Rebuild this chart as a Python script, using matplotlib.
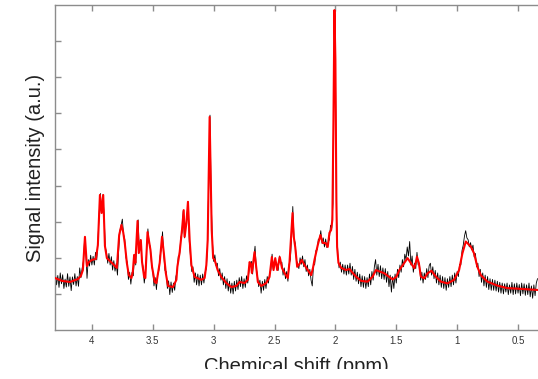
import numpy as np
import matplotlib
matplotlib.use("Agg")
import matplotlib.pyplot as plt
from matplotlib.patches import Rectangle

plt.rcParams['font.family'] = ['Liberation Sans', 'DejaVu Sans']

# ---- data -------------------------------------------------------------
# Fitted spectrum (red): chemical shift (ppm) and intensity (a.u.)
fit_ppm = [4.303, 4.246, 4.180, 4.115, 4.090, 4.074, 4.057, 4.041, 4.025, 4.000,
           3.967, 3.951, 3.934, 3.920, 3.907, 3.893, 3.877, 3.836, 3.795, 3.776,
           3.757, 3.743, 3.730, 3.713, 3.697, 3.675, 3.664, 3.653, 3.643, 3.625,
           3.615, 3.598, 3.588, 3.571, 3.561, 3.543, 3.530, 3.519, 3.506, 3.484,
           3.470, 3.443, 3.424, 3.410, 3.393, 3.375, 3.334, 3.306, 3.298, 3.279,
           3.260, 3.246, 3.238, 3.224, 3.211, 3.197, 3.183, 3.156, 3.101, 3.074,
           3.060, 3.049, 3.041, 3.033, 3.025, 3.016, 3.004, 2.992, 2.967, 2.937,
           2.896, 2.855, 2.814, 2.787, 2.746, 2.719, 2.705, 2.694, 2.686, 2.664,
           2.650, 2.637, 2.609, 2.568, 2.541, 2.522, 2.508, 2.494, 2.478, 2.457,
           2.439, 2.418, 2.391, 2.377, 2.369, 2.352, 2.342, 2.330, 2.314, 2.295,
           2.276, 2.254, 2.227, 2.199, 2.184, 2.172, 2.145, 2.123, 2.104, 2.082,
           2.063, 2.049, 2.035, 2.025, 2.016, 2.008, 2.000, 1.992, 1.986, 1.975,
           1.953, 1.912, 1.885, 1.858, 1.828, 1.789, 1.735, 1.694, 1.667, 1.598,
           1.530, 1.500, 1.475, 1.434, 1.407, 1.379, 1.352, 1.339, 1.330, 1.315,
           1.298, 1.270, 1.243, 1.211, 1.175, 1.134, 1.079, 1.025, 0.984, 0.957,
           0.929, 0.888, 0.861, 0.834, 0.806, 0.752, 0.670, 0.588, 0.478, 0.344]
fit_int = [1.44, 1.36, 1.33, 1.41, 1.50, 1.66, 2.58, 1.77, 1.88, 1.94,
           1.97, 2.35, 3.74, 3.24, 3.74, 2.33, 1.99, 1.86, 1.72, 2.63,
           2.91, 2.71, 2.41, 1.86, 1.52, 1.44, 1.61, 2.08, 1.86, 3.02,
           2.13, 2.49, 1.88, 1.47, 1.44, 2.71, 2.44, 2.22, 1.75, 1.33,
           1.30, 1.86, 2.58, 2.16, 1.58, 1.22, 1.19, 1.39, 1.75, 2.16,
           2.77, 3.32, 2.58, 2.96, 3.55, 2.49, 1.80, 1.47, 1.39, 1.44,
           1.80, 2.49, 4.16, 5.90, 4.43, 2.77, 1.99, 1.94, 1.66, 1.47,
           1.30, 1.19, 1.22, 1.33, 1.30, 1.39, 1.88, 1.83, 1.58, 2.16,
           1.72, 1.33, 1.22, 1.30, 1.47, 2.02, 1.66, 1.99, 1.66, 2.02,
           1.72, 1.58, 1.44, 1.88, 2.30, 3.24, 2.58, 2.30, 1.75, 1.83,
           1.94, 1.80, 1.66, 1.52, 1.72, 1.94, 2.35, 2.63, 2.41, 2.41,
           2.30, 2.69, 2.77, 3.05, 5.82, 8.86, 7.48, 3.60, 2.30, 1.86,
           1.72, 1.66, 1.69, 1.58, 1.47, 1.36, 1.34, 1.48, 1.66, 1.57,
           1.40, 1.47, 1.66, 1.86, 1.99, 1.85, 1.71, 1.88, 2.03, 1.86,
           1.48, 1.43, 1.57, 1.64, 1.48, 1.34, 1.29, 1.39, 1.66, 2.12,
           2.45, 2.31, 2.12, 1.75, 1.52, 1.34, 1.23, 1.16, 1.14, 1.11]

# Measured spectrum (black): sampled every 0.01 ppm starting at 4.30 ppm
raw_start = 4.30
raw_step = 0.01
raw_int = [
    # 4.30 - 4.01
    1.59, 1.25, 1.51, 1.18, 1.58, 1.28, 1.53, 1.15, 1.41, 1.19,
    1.56, 1.21, 1.47, 1.09, 1.47, 1.26, 1.56, 1.22, 1.48, 1.21,
    1.72, 1.45, 1.71, 1.90, 2.50, 2.15, 1.43, 1.95, 1.77, 2.07,
    # 4.00 - 3.71
    1.80, 2.04, 1.80, 2.15, 1.94, 2.50, 3.25, 3.78, 3.25, 3.74,
    3.20, 2.30, 2.15, 1.85, 2.12, 1.80, 2.03, 1.66, 1.92, 1.63,
    1.84, 1.52, 2.20, 2.75, 2.90, 3.07, 2.65, 2.51, 2.00, 1.88,
    # 3.70 - 3.41
    1.40, 1.60, 1.27, 1.60, 1.50, 2.05, 1.80, 2.55, 3.05, 2.15,
    2.50, 1.95, 1.75, 1.30, 1.55, 2.25, 2.80, 2.40, 2.30, 1.80,
    1.62, 1.22, 1.45, 1.12, 1.52, 1.65, 2.05, 2.25, 2.72, 2.10,
    # 3.40 - 3.11
    1.65, 1.62, 1.15, 1.36, 0.98, 1.33, 1.04, 1.30, 1.10, 1.48,
    1.62, 2.05, 2.05, 2.55, 2.70, 3.30, 2.55, 2.85, 3.10, 3.55,
    2.45, 2.05, 1.62, 1.75, 1.32, 1.58, 1.25, 1.55, 1.22, 1.52,
    # 3.10 - 2.81
    1.25, 1.55, 1.30, 1.60, 1.70, 2.35, 4.10, 5.95, 3.55, 2.45,
    1.90, 2.08, 1.78, 1.85, 1.50, 1.70, 1.38, 1.58, 1.25, 1.48,
    1.15, 1.42, 1.08, 1.35, 1.02, 1.30, 1.00, 1.35, 1.08, 1.38,
    # 2.80 - 2.51
    1.12, 1.45, 1.20, 1.48, 1.15, 1.42, 1.18, 1.50, 1.30, 1.62,
    1.85, 1.90, 1.55, 2.00, 2.32, 1.72, 1.50, 1.20, 1.38, 1.02,
    1.35, 1.10, 1.40, 1.15, 1.48, 1.30, 1.58, 1.65, 2.10, 1.68,
    # 2.50 - 2.21
    1.92, 1.88, 1.80, 1.65, 2.05, 1.85, 1.88, 1.52, 1.72, 1.42,
    1.62, 1.35, 1.82, 1.95, 2.55, 3.42, 2.55, 2.40, 1.92, 1.85,
    1.70, 2.00, 1.82, 2.05, 1.75, 1.95, 1.62, 1.80, 1.50, 1.68,
    # 2.20 - 1.91
    1.38, 1.22, 1.78, 1.82, 2.20, 2.22, 2.52, 2.48, 2.75, 2.40,
    2.55, 2.30, 2.52, 2.28, 2.42, 2.50, 2.90, 2.82, 3.50, 8.75,
    7.40, 3.05, 2.10, 1.72, 1.88, 1.60, 1.82, 1.55, 1.80, 1.52,
    # 1.90 - 1.61
    1.80, 1.55, 1.85, 1.52, 1.76, 1.40, 1.68, 1.35, 1.60, 1.28,
    1.55, 1.20, 1.50, 1.18, 1.48, 1.15, 1.45, 1.20, 1.55, 1.25,
    1.62, 1.38, 1.75, 1.95, 1.52, 1.82, 1.48, 1.78, 1.42, 1.72,
    # 1.60 - 1.31
    1.40, 1.70, 1.32, 1.62, 1.20, 1.52, 1.05, 1.48, 1.15, 1.55,
    1.30, 1.68, 1.45, 1.80, 1.60, 1.95, 1.75, 2.10, 1.95, 2.30,
    2.05, 2.45, 1.80, 2.05, 1.60, 1.85, 1.70, 2.15, 1.80, 1.85,
    # 1.30 - 1.01
    1.38, 1.60, 1.30, 1.58, 1.40, 1.70, 1.45, 1.78, 1.85, 1.52,
    1.75, 1.42, 1.65, 1.30, 1.58, 1.25, 1.52, 1.18, 1.48, 1.15,
    1.45, 1.10, 1.42, 1.18, 1.48, 1.20, 1.52, 1.25, 1.58, 1.30,
    # 1.00 - 0.71
    1.62, 1.48, 1.82, 1.80, 2.20, 2.35, 2.60, 2.75, 2.55, 2.50,
    2.30, 2.42, 2.22, 2.35, 2.02, 2.12, 1.75, 1.85, 1.48, 1.68,
    1.32, 1.58, 1.22, 1.52, 1.18, 1.48, 1.12, 1.42, 1.10, 1.40,
    # 0.70 - 0.41
    1.10, 1.38, 1.08, 1.35, 1.05, 1.32, 1.02, 1.30, 1.00, 1.28,
    1.05, 1.30, 0.98, 1.25, 1.02, 1.32, 0.98, 1.28, 1.00, 1.30,
    1.02, 1.26, 0.95, 1.30, 1.00, 1.28, 0.96, 1.25, 0.98, 1.30,
    # 0.40 - 0.34
    0.92, 1.22, 0.88, 1.25, 0.95, 1.30, 1.42,
]

x_ticks = [4, 3.5, 3, 2.5, 2, 1.5, 1, 0.5]
x_tick_labels = ['4', '3.5', '3', '2.5', '2', '1.5', '1', '0.5']
y_ticks = [1, 2, 3, 4, 5, 6, 7, 8]

# ---- figure -----------------------------------------------------------
W, H = 538, 379
fig = plt.figure(figsize=(W / 100, H / 100), dpi=100)
ax = fig.add_axes([55 / W, (H - 330) / H, 1 - 55 / W, 325 / H])

raw_ppm = raw_start - raw_step * np.arange(len(raw_int))
ax.plot(raw_ppm, raw_int, color='black', lw=0.6, zorder=2)
ax.plot(fit_ppm, fit_int, color='#ff0000', lw=1.5, zorder=3)

ax.set_xlim(4.303, 0.336)
ax.set_ylim(0, 9)

ax.set_xticks(x_ticks)
ax.set_xticklabels(x_tick_labels)
ax.set_yticks(y_ticks)
ax.set_yticklabels([])
ax.tick_params(axis='x', direction='in', length=4, width=1, color='#8c8c8c',
               labelsize=7, labelcolor='#333333', pad=4, top=True)
ax.tick_params(axis='y', direction='in', length=4, width=1, color='#8c8c8c')

for side in ['left', 'bottom', 'top']:
    ax.spines[side].set_color('#8c8c8c')
    ax.spines[side].set_linewidth(1.0)
ax.spines['right'].set_visible(False)

fig.text(296.5 / W, (H - 372.5) / H, 'Chemical shift (ppm)', ha='center',
         va='baseline', fontsize=14.5, color='#222222')
fig.text(36 / W, (H - 168) / H, 'Signal intensity (a.u.)', rotation=90,
         ha='center', va='center', fontsize=14.5, color='#222222')

# the reference image is cut just below the x-axis title
fig.patches.append(Rectangle((0, 0), 1, 10 / H, transform=fig.transFigure,
                             facecolor='white', edgecolor='none', zorder=10))

fig.savefig('out.png', dpi=100)
